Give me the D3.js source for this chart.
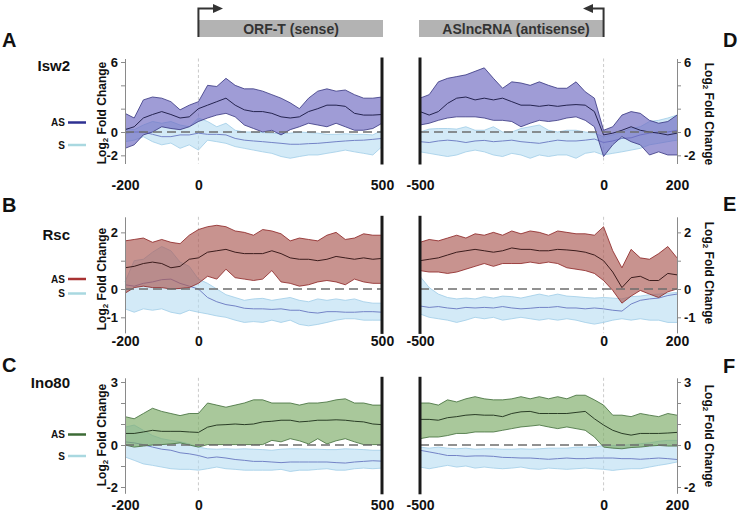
<!DOCTYPE html>
<html><head><meta charset="utf-8">
<script src="https://cdn.jsdelivr.net/npm/d3@7"></script>
<style>
body{margin:0;background:#fff;}
svg{display:block;font-family:"Liberation Sans",Arial,Helvetica,sans-serif;}
</style>
</head><body>
<svg id="chart" width="742" height="512"></svg>
<script>
// ---------- positions (bp) ----------
const posSense = [-200,-175,-150,-125,-100,-75,-50,-25,0,25,50,75,100,125,150,175,200,225,250,275,300,325,350,375,400,425,450,475,500];
const posAnti  = [-500,-475,-450,-425,-400,-375,-350,-325,-300,-275,-250,-225,-200,-175,-150,-125,-100,-75,-50,-25,0,25,50,75,100,125,150,175,200];

// ---------- tick values ----------
const xTicksSense = [-200, 0, 500];
const xTicksAnti = [-500, 0, 200];
const yTicksIsw2 = [-2, 0, 2, 4, 6];   const yLabelsIsw2 = [-2, 0, 6];
const yTicksRsc = [-1, 0, 1, 2];       const yLabelsRsc = [-1, 0, 2];
const yTicksIno80 = [-2, -1, 0, 1, 2, 3]; const yLabelsIno80 = [-2, 0, 3];

// ---------- Isw2 (A: sense window, D: antisense window) ----------
const aAsUp   = [1.6,1.2,2.75,3.0,2.9,2.6,1.9,2.3,2.6,4.0,3.9,4.6,4.0,3.7,3.7,3.5,3.2,2.9,2.5,2.0,2.9,3.5,3.7,3.5,3.6,3.2,2.9,2.9,3.0];
const aAsMean = [0.2,0.45,1.2,1.5,1.75,1.5,1.2,1.3,2.0,2.3,2.6,2.9,2.3,1.9,1.75,1.75,1.6,1.3,1.2,1.3,1.75,2.0,2.3,2.3,2.2,1.6,1.45,1.45,1.5];
const aAsLo   = [-1.4,-1.1,-0.25,0.0,0.45,0.3,0.2,0.45,0.9,1.2,1.45,1.6,1.3,0.6,0.3,0.0,0.15,-0.25,0.2,0.45,0.75,0.6,0.45,0.75,0.45,0.15,0.15,0.3,0.75];
const aSUp    = [0.3,0.2,0.6,0.9,0.75,0.9,0.6,0.45,1.2,0.9,0.45,0.75,0.15,0.0,0.0,-0.05,-0.1,-0.15,-0.1,0.0,-0.05,-0.1,-0.2,-0.2,-0.15,-0.2,-0.2,-0.25,0.15];
const aSMean  = [-0.1,0.0,0.0,-0.2,-0.4,-0.4,-0.25,-0.25,-0.1,-0.2,-0.2,-0.25,-0.55,-0.7,-0.77,-0.83,-0.9,-0.97,-1.05,-1.05,-1.0,-0.97,-0.9,-0.83,-0.77,-0.72,-0.7,-0.63,-0.55];
const aSLo    = [-0.83,-0.7,-0.4,-0.83,-1.1,-0.95,-1.4,-1.1,-1.55,-0.7,-0.83,-0.97,-1.25,-1.4,-1.55,-1.7,-1.83,-2.1,-2.25,-2.1,-1.97,-1.97,-1.83,-1.7,-1.55,-1.7,-1.83,-1.97,-1.25];

const dAsUp   = [2.9,3.2,4.3,4.6,4.75,4.9,5.2,5.5,4.6,3.75,4.3,4.2,4.0,4.3,4.0,3.75,3.75,4.3,3.45,2.9,0.15,0.45,1.45,1.75,1.6,1.0,0.75,0.9,1.45];
const dAsMean = [1.75,1.45,1.75,2.45,2.9,3.0,2.75,2.9,2.75,2.9,2.6,2.3,2.3,2.2,2.3,2.2,2.3,2.35,2.3,1.75,-0.25,-0.1,0.15,0.45,0.15,0.0,-0.1,-0.25,-0.1];
const dAsLo   = [0.6,0.75,1.0,1.2,1.3,1.3,1.3,1.2,1.0,1.0,0.9,0.45,0.75,1.0,0.9,1.0,1.2,1.3,1.0,0.45,-2.1,-1.1,-0.4,-0.83,-1.1,-1.97,-1.7,-1.97,-1.97];
const dSUp    = [0.0,0.25,0.3,0.3,0.25,0.45,0.15,0.15,0.45,0.0,0.0,0.3,0.45,0.6,0.15,0.0,0.15,0.15,0.0,-0.1,-0.4,-0.25,0.0,0.3,0.45,0.9,1.0,1.2,1.45];
const dSMean  = [-0.83,-0.9,-0.77,-0.7,-0.77,-0.9,-0.77,-0.72,-0.83,-0.77,-0.7,-0.83,-0.9,-0.97,-0.83,-0.7,-0.77,-0.77,-0.7,-0.6,-0.9,-0.77,-0.55,-0.5,-0.25,-0.1,0.0,0.0,0.15];
const dSLo    = [-1.7,-1.83,-1.97,-2.1,-1.97,-1.7,-1.55,-1.7,-1.97,-2.1,-1.83,-1.97,-2.25,-1.97,-2.1,-1.97,-1.97,-2.25,-1.83,-1.7,-1.97,-1.83,-1.7,-1.55,-1.4,-1.1,-0.97,-0.83,-0.7];

// ---------- Rsc (B / E) ----------
const bAsUp   = [1.7,1.75,1.8,1.65,1.75,1.65,1.6,1.9,2.1,2.2,2.25,2.2,2.05,2.0,1.9,2.1,2.05,1.95,1.7,1.8,1.75,1.7,1.9,2.0,1.75,1.8,1.95,1.9,1.9];
const bAsMean = [0.75,0.8,0.9,0.95,0.9,0.75,0.8,1.05,1.1,1.3,1.35,1.4,1.3,1.25,1.25,1.25,1.35,1.25,1.1,1.05,1.05,1.0,1.05,1.15,1.1,1.05,1.1,1.05,1.08];
const bAsLo   = [-0.15,0.05,0.1,0.05,0.05,0.0,0.02,0.05,0.2,0.45,0.35,0.7,0.4,0.35,0.3,0.35,0.65,0.25,0.2,0.1,0.15,0.25,0.3,0.25,0.15,0.35,0.25,0.2,0.2];
const bSUp    = [0.25,1.0,1.05,1.3,1.5,1.35,0.95,0.8,0.35,0.2,0.0,-0.2,-0.3,-0.4,-0.35,-0.33,-0.4,-0.35,-0.3,-0.4,-0.45,-0.35,-0.4,-0.35,-0.4,-0.35,-0.45,-0.5,-0.5];
const bSMean  = [0.15,0.1,0.2,0.25,0.33,0.35,0.2,0.1,0.0,-0.3,-0.45,-0.55,-0.6,-0.68,-0.7,-0.7,-0.72,-0.7,-0.75,-0.75,-0.82,-0.85,-0.8,-0.8,-0.82,-0.82,-0.8,-0.8,-0.82];
const bSLo    = [-0.7,-0.82,-0.7,-0.75,-0.7,-0.82,-0.88,-0.75,-0.82,-0.88,-0.95,-1.0,-1.1,-1.18,-1.15,-1.18,-1.1,-1.18,-1.1,-1.25,-1.3,-1.25,-1.18,-1.1,-1.05,-1.05,-1.1,-1.1,-1.1];

const eAsUp   = [1.65,1.75,1.7,1.8,1.9,1.8,1.95,1.9,2.0,1.9,2.05,1.95,2.05,2.0,1.9,2.05,2.0,1.95,1.95,1.9,2.2,1.35,0.75,1.4,1.1,1.05,1.25,1.5,1.1];
const eAsMean = [1.0,1.05,1.1,1.2,1.3,1.35,1.4,1.35,1.3,1.35,1.45,1.4,1.4,1.35,1.35,1.4,1.38,1.35,1.3,1.2,1.0,0.6,0.05,0.4,0.45,0.3,0.3,0.55,0.5];
const eAsLo   = [0.65,0.6,0.6,0.55,0.6,0.7,0.8,0.9,0.8,0.9,0.9,0.9,0.95,0.9,0.95,0.9,0.75,0.7,0.65,0.55,0.3,-0.05,-0.5,-0.25,-0.05,-0.18,-0.3,-0.1,0.0];
const eSUp    = [0.45,0.05,-0.18,-0.3,-0.35,-0.32,-0.35,-0.27,-0.32,-0.25,-0.27,-0.32,-0.25,-0.18,-0.25,-0.18,-0.25,-0.27,-0.3,-0.32,-0.3,-0.32,-0.35,-0.27,-0.25,-0.2,-0.18,-0.15,-0.12];
const eSMean  = [-0.6,-0.65,-0.62,-0.67,-0.7,-0.65,-0.67,-0.65,-0.67,-0.62,-0.67,-0.7,-0.68,-0.65,-0.65,-0.62,-0.67,-0.67,-0.7,-0.67,-0.7,-0.75,-0.78,-0.53,-0.4,-0.35,-0.32,-0.23,-0.18];
const eSLo    = [-0.88,-1.0,-1.05,-1.1,-1.18,-1.1,-1.0,-1.05,-1.0,-1.1,-1.05,-1.0,-1.05,-1.1,-1.05,-1.1,-1.05,-1.1,-1.18,-1.24,-1.18,-1.1,-1.05,-1.1,-1.05,-1.1,-1.1,-1.18,-1.18];

// ---------- Ino80 (C / F) ----------
const cAsUp   = [1.35,1.25,1.5,1.75,1.6,1.5,1.4,1.5,1.5,2.0,1.9,1.8,1.9,2.0,2.15,2.15,2.0,2.0,2.0,1.9,2.0,2.0,2.05,2.15,2.2,2.0,2.0,1.9,1.9];
const cAsMean = [0.55,0.55,0.62,0.7,0.65,0.65,0.65,0.62,0.6,0.85,0.95,0.97,1.0,0.97,1.0,1.1,1.13,1.18,1.18,1.1,1.13,1.18,1.18,1.2,1.18,1.13,1.1,1.0,0.97];
const cAsLo   = [0.0,-0.1,-0.05,0.0,0.02,0.05,0.1,0.0,-0.1,0.02,0.02,0.02,0.02,0.02,0.02,0.02,0.22,0.15,0.3,0.2,0.05,0.3,0.05,0.2,0.3,0.15,0.02,0.02,0.02];
const cSUp    = [0.85,0.95,0.7,0.45,0.3,0.22,0.15,0.05,-0.1,-0.18,-0.2,-0.18,-0.2,-0.18,-0.2,-0.22,-0.25,-0.2,-0.18,-0.18,-0.2,-0.2,-0.22,-0.22,-0.18,-0.2,-0.22,-0.25,-0.25];
const cSMean  = [0.15,0.1,0.02,-0.1,-0.2,-0.25,-0.37,-0.42,-0.5,-0.62,-0.57,-0.62,-0.69,-0.73,-0.78,-0.78,-0.81,-0.84,-0.81,-0.81,-0.81,-0.81,-0.81,-0.84,-0.86,-0.81,-0.78,-0.75,-0.77];
const cSLo    = [-0.57,-0.73,-0.9,-0.97,-1.05,-1.13,-1.16,-1.16,-1.2,-1.13,-1.05,-1.13,-1.16,-1.2,-1.2,-1.2,-1.2,-1.16,-1.26,-1.2,-1.2,-1.16,-1.13,-1.2,-1.2,-1.13,-1.1,-1.13,-1.1];

const fAsUp   = [2.0,2.0,1.9,2.15,2.05,2.2,2.3,2.2,2.15,2.15,2.2,2.3,2.2,2.3,2.2,2.3,2.2,2.37,2.37,2.15,1.9,1.42,1.42,1.35,1.5,1.42,1.35,1.5,1.42];
const fAsMean = [1.22,1.22,1.18,1.3,1.35,1.42,1.45,1.42,1.42,1.35,1.5,1.58,1.6,1.5,1.5,1.5,1.5,1.55,1.6,1.25,0.95,0.7,0.55,0.47,0.55,0.55,0.55,0.57,0.6];
const fAsLo   = [0.3,0.38,0.38,0.45,0.55,0.55,0.62,0.62,0.62,0.7,0.78,0.86,0.9,0.95,0.86,0.78,0.86,0.78,0.7,0.38,-0.1,-0.15,-0.18,-0.12,-0.1,-0.05,-0.02,-0.05,-0.05];
const fSUp    = [-0.1,-0.15,-0.1,-0.15,-0.18,-0.15,-0.2,-0.18,-0.18,-0.2,-0.2,-0.18,-0.2,-0.18,-0.15,-0.15,-0.15,-0.1,-0.1,-0.1,-0.02,-0.02,-0.02,0.02,0.06,0.1,0.18,0.22,0.22];
const fSMean  = [-0.25,-0.33,-0.41,-0.5,-0.5,-0.54,-0.52,-0.52,-0.54,-0.59,-0.6,-0.62,-0.62,-0.65,-0.68,-0.65,-0.62,-0.65,-0.65,-0.62,-0.62,-0.62,-0.65,-0.65,-0.68,-0.65,-0.62,-0.65,-0.69];
const fSLo    = [-1.05,-1.13,-1.05,-0.97,-1.05,-1.0,-1.1,-1.05,-1.1,-1.13,-1.1,-1.05,-1.13,-1.16,-1.1,-1.13,-1.16,-1.13,-1.1,-1.13,-1.16,-1.21,-1.16,-1.13,-1.13,-1.05,-0.97,-0.9,-0.81];

// ---------- styling / layout ----------
const sStyle = {fill:"#b6dcf2", edge:"#9fcde7", mean:"#7383c6", legend:"#a9d8e0"};
const factors = [
  {name:"Isw2", L:"A", R:"D", fill:"#6b67c0", edge:"#35347f", mean:"#24234f", legend:"#2e3192",
   top:58.5, bottom:163.5, dom:[-2.7,6.3], yt:yTicksIsw2, yl:yLabelsIsw2, xLab:180,
   letterY:47, rLetterY:47, nameY:71, legAS:122.5, legS:145, titleL:113, titleR:114,
   left:[aAsUp,aAsMean,aAsLo,aSUp,aSMean,aSLo], right:[dAsUp,dAsMean,dAsLo,dSUp,dSMean,dSLo]},
  {name:"Rsc", L:"B", R:"E", fill:"#aa5953", edge:"#8a2020", mean:"#3b1c1c", legend:"#a83232",
   top:216.8, bottom:332.9, dom:[-1.55,2.55], yt:yTicksRsc, yl:yLabelsRsc, xLab:336,
   letterY:212, rLetterY:211, nameY:240, legAS:279, legS:293.5, titleL:279, titleR:273,
   left:[bAsUp,bAsMean,bAsLo,bSUp,bSMean,bSLo], right:[eAsUp,eAsMean,eAsLo,eSUp,eSMean,eSLo]},
  {name:"Ino80", L:"C", R:"F", fill:"#7baa65", edge:"#3d6b36", mean:"#2a3d26", legend:"#3c6b36",
   top:377.8, bottom:493.3, dom:[-2.3,3.2], yt:yTicksIno80, yl:yLabelsIno80, xLab:500,
   letterY:372, rLetterY:373, nameY:388, legAS:434.5, legS:456, titleL:435, titleR:436,
   left:[cAsUp,cAsMean,cAsLo,cSUp,cSMean,cSLo], right:[fAsUp,fAsMean,fAsLo,fSUp,fSMean,fSLo]}
];

const svg = d3.select("#chart");
const xL = d3.scaleLinear().domain([-200,500]).range([125,382]);
const xR = d3.scaleLinear().domain([-500,200]).range([420,677]);

function logTitle(x, y, rot){
  const t = svg.append("text")
    .attr("transform", `translate(${x},${y}) rotate(${rot})`)
    .attr("text-anchor","middle").attr("dominant-baseline","central")
    .attr("font-size",12).attr("font-weight","bold").attr("fill","#111");
  t.append("tspan").text("Log");
  t.append("tspan").attr("font-size",8).attr("dy",3).text("2");
  t.append("tspan").attr("dy",-3).text(" Fold Change");
}

function drawPanel(f, x, pos, arr, side){
  const [asUp, asMean, asLo, sUp, sMean, sLo] = arr;
  const y = d3.scaleLinear().domain(f.dom).range([f.bottom, f.top]);
  const g = svg.append("g");
  const idx = d3.range(pos.length);
  const area = (up, lo) => d3.area().x(i => x(pos[i])).y0(i => y(lo[i])).y1(i => y(up[i]));
  const line = (v) => d3.line().x(i => x(pos[i])).y(i => y(v[i]));

  // vertical dashed at 0
  g.append("line").attr("x1",x(0)).attr("x2",x(0)).attr("y1",f.top).attr("y2",f.bottom)
    .attr("stroke","#c4c4c4").attr("stroke-width",0.9).attr("stroke-dasharray","3,2.5");

  // sense band
  g.append("path").datum(idx).attr("d",area(sUp,sLo)).attr("fill",sStyle.fill).attr("fill-opacity",0.6);
  [sUp,sLo].forEach(v => g.append("path").datum(idx).attr("d",line(v)).attr("fill","none")
    .attr("stroke",sStyle.edge).attr("stroke-width",0.8));
  g.append("path").datum(idx).attr("d",line(sMean)).attr("fill","none")
    .attr("stroke",sStyle.mean).attr("stroke-width",1);

  // antisense band
  g.append("path").datum(idx).attr("d",area(asUp,asLo)).attr("fill",f.fill).attr("fill-opacity",0.65);
  [asUp,asLo].forEach(v => g.append("path").datum(idx).attr("d",line(v)).attr("fill","none")
    .attr("stroke",f.edge).attr("stroke-width",0.8));
  g.append("path").datum(idx).attr("d",line(asMean)).attr("fill","none")
    .attr("stroke",f.mean).attr("stroke-width",1);

  // zero dashed line
  g.append("line").attr("x1",x.range()[0]).attr("x2",x.range()[1]).attr("y1",y(0)).attr("y2",y(0))
    .attr("stroke","#6d6d6d").attr("stroke-width",1.5).attr("stroke-dasharray","9,5");

  // thick boundary line
  const bx = side === "L" ? x(500) : x(-500);
  g.append("line").attr("x1",bx).attr("x2",bx).attr("y1",f.top - 1).attr("y2",f.bottom + 1)
    .attr("stroke","#1a1a1a").attr("stroke-width",3);

  // y axis
  const fmt = d => f.yl.includes(d) ? String(d) : "";
  const ax = side === "L" ? d3.axisLeft(y) : d3.axisRight(y);
  ax.tickValues(f.yt).tickSize(4).tickSizeOuter(0).tickPadding(3).tickFormat(fmt);
  const ag = svg.append("g")
    .attr("transform", `translate(${side === "L" ? x.range()[0] : x.range()[1]},0)`).call(ax);
  ag.select(".domain").attr("stroke","#8a8a8a").attr("stroke-width",1);
  ag.selectAll(".tick line").attr("stroke","#8a8a8a");
  ag.selectAll(".tick text").attr("font-size",13).attr("font-weight","bold").attr("fill","#111")
    .attr("font-family","Liberation Sans, Arial, sans-serif");

  // x axis labels
  const xa = d3.axisBottom(x).tickValues(side === "L" ? xTicksSense : xTicksAnti)
    .tickSize(0).tickPadding(0).tickFormat(d => String(d));
  const xg = svg.append("g").attr("transform",`translate(0,${f.xLab})`).call(xa);
  xg.select(".domain").remove();
  xg.selectAll(".tick text").attr("font-size",14).attr("font-weight","bold").attr("fill","#111")
    .attr("font-family","Liberation Sans, Arial, sans-serif");
}

factors.forEach(f => {
  drawPanel(f, xL, posSense, f.left, "L");
  drawPanel(f, xR, posAnti, f.right, "R");

  // letters
  svg.append("text").attr("x",2).attr("y",f.letterY).attr("font-size",20).attr("font-weight","bold")
    .attr("fill","#111").text(f.L);
  svg.append("text").attr("x",723).attr("y",f.rLetterY).attr("font-size",20).attr("font-weight","bold")
    .attr("fill","#111").text(f.R);
  // factor name
  svg.append("text").attr("x",70).attr("y",f.nameY).attr("text-anchor","end")
    .attr("font-size",15).attr("font-weight","bold").attr("fill","#111").text(f.name);
  // legend
  [[f.legAS,"AS",f.legend],[f.legS,"S",sStyle.legend]].forEach(([ly,lab,col]) => {
    svg.append("text").attr("x",65).attr("y",ly).attr("text-anchor","end").attr("dominant-baseline","central")
      .attr("font-size",10).attr("font-weight","bold").attr("fill","#111").text(lab);
    svg.append("line").attr("x1",68).attr("x2",86).attr("y1",ly).attr("y2",ly)
      .attr("stroke",col).attr("stroke-width",2.5);
  });
  // axis titles
  logTitle(102, f.titleL, -90);
  logTitle(709, f.titleR, 90);
});

// ---------- header ----------
const hdr = svg.append("g");
hdr.append("rect").attr("x",xL(0)).attr("y",20).attr("width",xL(500) + 1 - xL(0)).attr("height",17).attr("fill","#b3b3b3");
hdr.append("text").attr("x",291).attr("y",33.5).attr("text-anchor","middle").attr("font-size",14)
  .attr("font-weight","bold").attr("fill","#333").text("ORF-T (sense)");
hdr.append("path").attr("d",`M${xL(0)},37V8.5H214`).attr("fill","none").attr("stroke","#333").attr("stroke-width",2);
hdr.append("path").attr("d","M223,8.5L213,4L213,13Z").attr("fill","#333");

hdr.append("rect").attr("x",419).attr("y",20).attr("width",xR(0) - 419).attr("height",17).attr("fill","#b3b3b3");
hdr.append("text").attr("x",516).attr("y",33.5).attr("text-anchor","middle").attr("font-size",14)
  .attr("font-weight","bold").attr("fill","#333").text("ASlncRNA (antisense)");
hdr.append("path").attr("d",`M${xR(0)},37V8.5H592`).attr("fill","none").attr("stroke","#333").attr("stroke-width",2);
hdr.append("path").attr("d","M583,8.5L593,4L593,13Z").attr("fill","#333");
</script>
</body></html>
